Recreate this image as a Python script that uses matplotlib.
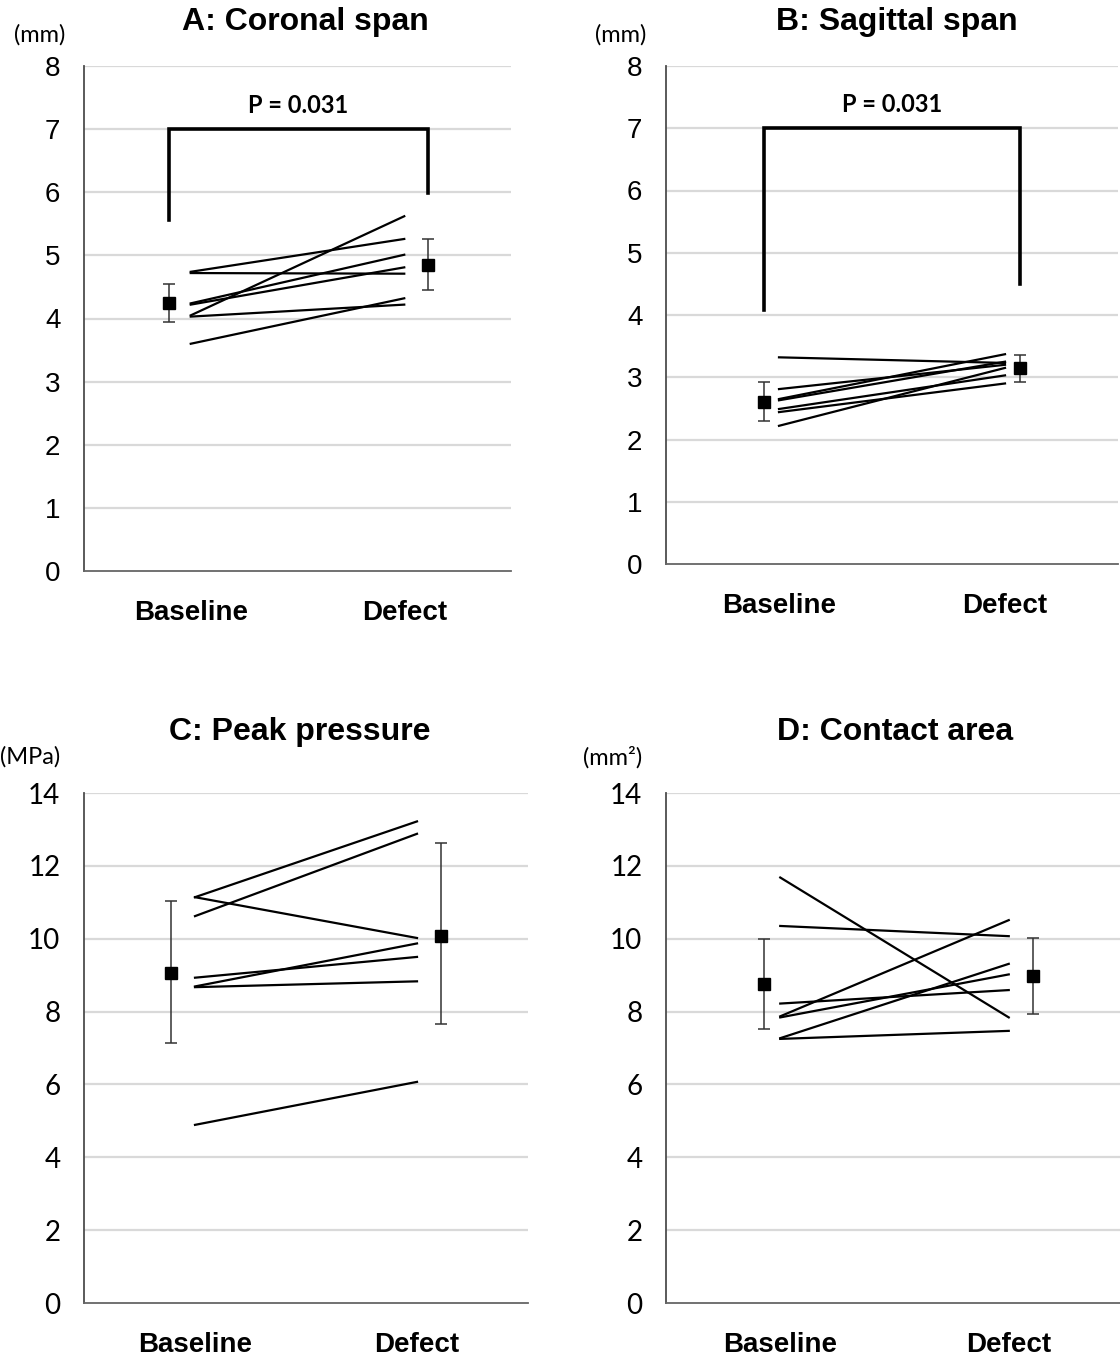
import matplotlib
matplotlib.use('Agg')
import matplotlib.pyplot as plt

# ---- data ----
categories = ['Baseline', 'Defect']

coronal_base = [4.74, 4.72, 4.24, 4.22, 4.05, 4.03, 3.60]
coronal_def = [5.26, 4.71, 5.01, 4.81, 5.62, 4.22, 4.32]
coronal_mean = [4.24, 4.84]
coronal_err_lo = [0.30, 0.39]
coronal_err_hi = [0.31, 0.42]

sagittal_base = [3.32, 2.81, 2.65, 2.63, 2.49, 2.44, 2.22]
sagittal_def = [3.23, 3.20, 3.37, 3.25, 3.03, 2.90, 3.15]
sagittal_mean = [2.60, 3.15]
sagittal_err_lo = [0.31, 0.22]
sagittal_err_hi = [0.32, 0.20]

pressure_base = [11.14, 10.62, 11.14, 8.69, 8.93, 8.67, 4.89]
pressure_def = [13.22, 12.88, 10.02, 9.87, 9.50, 8.83, 6.07]
pressure_mean = [9.07, 10.07]
pressure_err_lo = [1.94, 2.40]
pressure_err_hi = [1.97, 2.57]

area_base = [11.68, 10.35, 8.22, 7.87, 7.84, 7.27, 7.25]
area_def = [7.84, 10.07, 8.59, 10.51, 9.02, 9.31, 7.47]
area_mean = [8.75, 8.97]
area_err_lo = [1.22, 1.04]
area_err_hi = [1.23, 1.06]

p_text = 'P = 0.031'
bracket_a = [5.56, 7.0, 7.0, 5.99]
bracket_b = [4.08, 7.0, 7.0, 4.49]

W, H = 1120, 1359
fig = plt.figure(figsize=(W / 100, H / 100), dpi=100)

GRID = '#d9d9d9'
AXC = '#4d4d4d'


def px_axes(left, right, top, bottom):
    return fig.add_axes([left / W, 1 - bottom / H, (right - left) / W, (bottom - top) / H])


def panel(ax, base, defect, mean, elo, ehi, ymax, ystep, mean_x, tick_font, tick_size):
    ax.set_xlim(-0.5, 1.5)
    ax.set_ylim(0, ymax)
    ax.set_yticks(range(0, ymax + 1, ystep))
    for y in range(ystep, ymax + 1, ystep):
        ax.axhline(y, color=GRID, lw=1.6, zorder=0)
    for b, d in zip(base, defect):
        ax.plot([0, 1], [b, d], color='black', lw=1.6, zorder=3)
    ax.errorbar(mean_x, mean, yerr=[elo, ehi], fmt='s', color='black',
                markersize=9, ecolor='#333333', elinewidth=1.1, capsize=4,
                capthick=1.1, zorder=4)
    for s in ['top', 'right']:
        ax.spines[s].set_visible(False)
    ax.spines['left'].set_color(AXC)
    ax.spines['bottom'].set_color('#666666')
    ax.spines['left'].set_linewidth(1.3)
    ax.spines['bottom'].set_linewidth(1.3)
    ax.set_xticks([0, 1])
    ax.set_xticklabels(categories, fontsize=20, fontweight='bold',
                       family='Liberation Sans')
    ax.tick_params(axis='x', length=0, pad=21)
    ax.tick_params(axis='y', length=0, pad=17)
    for t in ax.get_yticklabels():
        t.set_family(tick_font)
        t.set_fontsize(tick_size)


axA = px_axes(84, 511, 66, 571)
axB = px_axes(666, 1118, 66, 564)
axC = px_axes(84, 528, 793, 1303)
axD = px_axes(666, 1123, 793, 1303)

mxA = [-0.102, 1.111]
mxB = [-0.066, 1.066]
mxC = [-0.108, 1.107]
mxD = [-0.071, 1.106]

panel(axA, coronal_base, coronal_def, coronal_mean, coronal_err_lo, coronal_err_hi,
      8, 1, mxA, 'Liberation Sans', 20)
panel(axB, sagittal_base, sagittal_def, sagittal_mean, sagittal_err_lo, sagittal_err_hi,
      8, 1, mxB, 'Liberation Sans', 20)
panel(axC, pressure_base, pressure_def, pressure_mean, pressure_err_lo, pressure_err_hi,
      14, 2, mxC, 'Lato', 20)
panel(axD, area_base, area_def, area_mean, area_err_lo, area_err_hi,
      14, 2, mxD, 'Lato', 20)

# significance brackets
for ax, mx, br in [(axA, mxA, bracket_a), (axB, mxB, bracket_b)]:
    ax.plot([mx[0], mx[0], mx[1], mx[1]], br, color='black', lw=2.6,
            solid_joinstyle='miter', zorder=3)
    ax.text((mx[0] + mx[1]) / 2, 7.38, p_text, ha='center', va='center',
            fontsize=17, fontweight='bold', family='Lato')

# titles and unit labels
titles = [('A: Coronal span', 305, 22), ('B: Sagittal span', 897, 22),
          ('C: Peak pressure', 300, 732), ('D: Contact area', 895, 732)]
for t, x, y in titles:
    fig.text(x / W, 1 - y / H, t, ha='center', va='center', fontsize=23,
             fontweight='bold', family='Liberation Sans')

units = [('(mm)', 40, 35), ('(mm)', 621, 35), ('(MPa)', 30, 757), ('(mm\u00b2)', 613, 757)]
for t, x, y in units:
    fig.text(x / W, 1 - y / H, t, ha='center', va='center', fontsize=17,
             family=['Lato', 'DejaVu Sans'])

fig.savefig('out.png', dpi=100)
